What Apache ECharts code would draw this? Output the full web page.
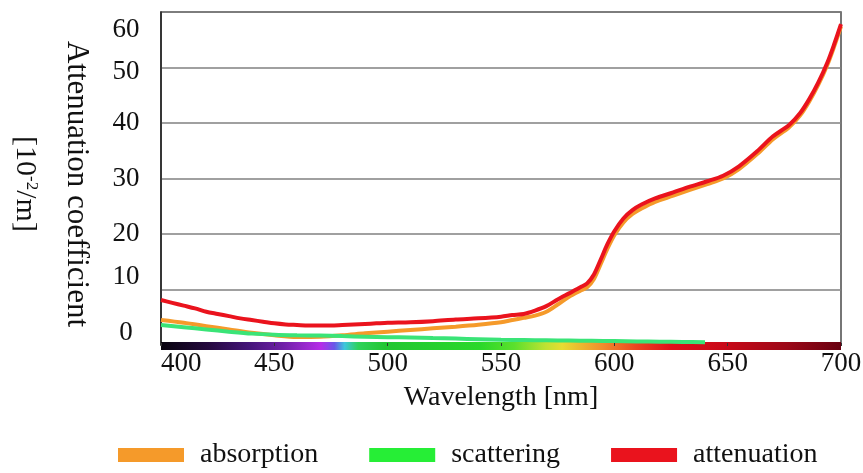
<!DOCTYPE html>
<html>
<head>
<meta charset="utf-8">
<script src="https://cdn.jsdelivr.net/npm/echarts@6/dist/echarts.min.js"></script>
<style>
html,body{margin:0;padding:0;background:#fff;}
#chart{width:863px;height:473px;}
</style>
</head>
<body>
<div id="chart"></div>
<script>
// ---- data ----
const seriesNames = ['absorption', 'scattering', 'attenuation'];

const absorptionX = [400,410,420,430,440,450,460,470,480,490,500,510,520,530,540,550,555,560,565,570,575,580,585,588,591,594,597,600,604,608,612,618,626,633,641,648,655,663,670,677,682,686,690,694,697,700];
const absorptionY = [4.5,4.0,3.4,2.8,2.2,1.75,1.45,1.5,1.75,2.1,2.4,2.7,3.0,3.3,3.65,4.1,4.5,4.9,5.3,6.0,7.3,8.7,9.8,10.4,11.9,14.6,17.4,19.8,22.1,23.6,24.6,25.8,26.9,27.9,29.0,30.0,31.7,34.4,37.1,39.2,41.4,43.9,46.9,50.5,53.8,57.4];

const scatteringX = [400,410,420,430,440,450,460,470,480,490,500,510,520,530,540,550,560,570,580,590,600,610,620,630,640];
const scatteringY = [3.6,3.2,2.8,2.4,2.05,1.85,1.75,1.7,1.6,1.5,1.4,1.35,1.25,1.15,1.05,0.95,0.9,0.85,0.8,0.75,0.7,0.65,0.6,0.55,0.5];

const attenuationX = [400,405,410,415,420,425,430,435,440,445,450,455,460,465,470,475,480,485,490,495,500,510,520,530,540,550,555,560,565,570,575,580,585,588,591,594,597,600,604,608,612,618,626,633,641,648,655,663,670,677,682,686,690,694,697,700];
const attenuationY = [8.1,7.6,7.1,6.6,6.0,5.6,5.2,4.8,4.5,4.2,3.9,3.7,3.6,3.5,3.5,3.5,3.6,3.7,3.8,3.9,4.0,4.1,4.3,4.6,4.8,5.1,5.4,5.6,6.2,7.0,8.2,9.3,10.4,11.1,12.7,15.4,18.2,20.5,22.8,24.3,25.3,26.4,27.5,28.5,29.5,30.5,32.2,34.9,37.6,39.6,41.8,44.3,47.3,50.9,54.2,57.8];

const xTicks = [400, 450, 500, 550, 600, 650, 700];
const yTicks = [0, 10, 20, 30, 40, 50, 60];

const xAxisTitle = 'Wavelength [nm]';
const yAxisTitle = 'Attenuation coefficient';

// ---- chart ----
const FONT = '"Liberation Serif", "Times New Roman", serif';
const chart = echarts.init(document.getElementById('chart'), null, {renderer: 'canvas'});

function pairs(xs, ys) { return xs.map((x, i) => [x, ys[i]]); }

const gridLeft = 161, gridRight = 22;
const barStart = gridLeft, barEnd = 863 - gridRight;

const spectrum = new echarts.graphic.LinearGradient(barStart, 0, barEnd, 0, [
  {offset: 0.00, color: '#08040e'},
  {offset: 0.07, color: '#25093f'},
  {offset: 0.13, color: '#45157a'},
  {offset: 0.18, color: '#7020a8'},
  {offset: 0.22, color: '#a12ad6'},
  {offset: 0.235, color: '#b52ce8'},
  {offset: 0.255, color: '#6a58e8'},
  {offset: 0.27, color: '#3fc6dc'},
  {offset: 0.29, color: '#2fd25a'},
  {offset: 0.33, color: '#22c632'},
  {offset: 0.47, color: '#2ad82a'},
  {offset: 0.52, color: '#5ce02c'},
  {offset: 0.565, color: '#bde232'},
  {offset: 0.59, color: '#e8dc32'},
  {offset: 0.65, color: '#f08c2c'},
  {offset: 0.70, color: '#ec4420'},
  {offset: 0.75, color: '#e0101a'},
  {offset: 0.83, color: '#c80818'},
  {offset: 0.92, color: '#9c0818'},
  {offset: 1.00, color: '#680010'}
], true);

const yShift = {60: [36,0,0,0], 50: [8,0,0,0], 10: [0,0,26,0], 0: [0,0,24,0]};
const yRich = {};
yTicks.forEach(v => {
  yRich['t' + v] = {fontFamily: FONT, fontSize: 27, color: '#111', padding: yShift[v] || [0,0,0,0]};
});

const colors = {absorption: '#f59a2a', scattering: '#3ae477', attenuation: '#ea131d'};

chart.setOption({
  animation: false,
  backgroundColor: '#ffffff',
  grid: {
    left: gridLeft, right: gridRight, top: 12, bottom: 128,
    show: true, borderColor: '#4a4a4a', borderWidth: 1.5, backgroundColor: 'transparent',
    containLabel: false, outerBoundsMode: 'none'
  },
  legend: {
    data: seriesNames,
    left: 118, top: 441, padding: 0,
    icon: 'rect', itemWidth: 66, itemHeight: 14, itemGap: 51,
    textStyle: {fontFamily: FONT, fontSize: 28, color: '#111', padding: [0, 0, 0, 11]}
  },
  xAxis: {
    type: 'value', min: 400, max: 700, interval: 50,
    offset: 1,
    name: xAxisTitle, nameLocation: 'middle', nameGap: 38,
    nameTextStyle: {fontFamily: FONT, fontSize: 28, color: '#111'},
    axisLine: {show: true, onZero: false, lineStyle: {color: spectrum, width: 8, cap: 'butt'}},
    axisTick: {show: true, inside: true, length: 3, lineStyle: {color: '#333', width: 1}},
    axisLabel: {fontFamily: FONT, fontSize: 27, color: '#111', margin: 4, alignMinLabel: 'left',
      formatter: v => xTicks.includes(v) ? String(v) : ''},
    splitLine: {show: false}
  },
  yAxis: {
    type: 'value', min: 0, max: 60, interval: 10,
    axisLine: {show: true, lineStyle: {color: '#222', width: 1.5}},
    axisTick: {show: false},
    axisLabel: {
      margin: 35, align: 'center',
      formatter: v => '{t' + v + '|' + v + '}',
      rich: yRich
    },
    splitLine: {show: true, lineStyle: {color: '#808080', width: 1.5}}
  },
  graphic: [
    {type: 'text', x: 76, y: 184, rotation: -Math.PI / 2,
     style: {text: yAxisTitle, x: 0, y: 0, align: 'center', verticalAlign: 'middle',
             font: '31px ' + FONT, fill: '#111'}},
    {type: 'text', x: 25, y: 184, rotation: -Math.PI / 2,
     style: {text: '[10{sup|-2}/m]', x: 0, y: 0, align: 'center', verticalAlign: 'middle',
             font: '30px ' + FONT, fill: '#111',
             rich: {sup: {fontSize: 17, fontFamily: FONT, verticalAlign: 'top', fill: '#111'}}}}
  ],
  series: [
    {name: 'absorption', type: 'line', data: pairs(absorptionX, absorptionY), smooth: 0.3,
     showSymbol: false, lineStyle: {color: colors.absorption, width: 4}, itemStyle: {color: colors.absorption}, z: 2},
    {name: 'scattering', type: 'line', data: pairs(scatteringX, scatteringY), smooth: 0.3,
     showSymbol: false, lineStyle: {color: colors.scattering, width: 4}, itemStyle: {color: '#26ee36'}, z: 3},
    {name: 'attenuation', type: 'line', data: pairs(attenuationX, attenuationY), smooth: 0.3,
     showSymbol: false, lineStyle: {color: colors.attenuation, width: 4}, itemStyle: {color: colors.attenuation}, z: 4}
  ]
});
</script>
</body>
</html>
